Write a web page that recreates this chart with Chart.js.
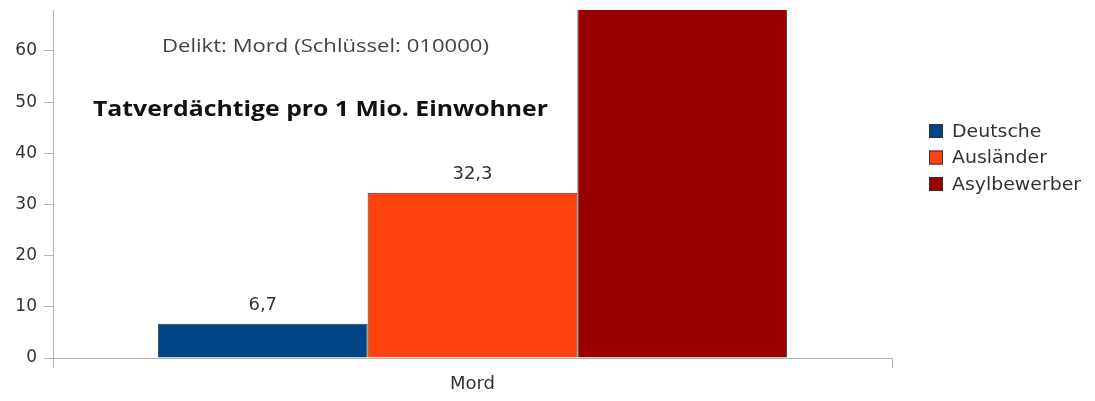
<!DOCTYPE html>
<html>
<head>
<meta charset="utf-8">
<script src="https://cdn.jsdelivr.net/npm/chart.js@4.4.1/dist/chart.umd.min.js"></script>
<style>
  html, body { margin: 0; padding: 0; background: #fff; }
  #wrap { width: 1095px; height: 401px; }
</style>
</head>
<body>
<div id="wrap"><canvas id="grafico" width="1095" height="401"></canvas></div>
<script>
// Werte (Asylbewerber ragt über den Achsenbereich hinaus, Wert geschätzt)
const kategorien = ['Mord'];
const gruppen = ['Deutsche', 'Ausländer', 'Asylbewerber'];
const werte = [6.7, 32.3, 85];
const farben = ['#004586', '#ff420e', '#990000'];
const yTicks = [0, 10, 20, 30, 40, 50, 60];
const yMax = 68;

const untertitel = 'Delikt: Mord (Schlüssel: 010000)';
const titel = 'Tatverdächtige pro 1 Mio. Einwohner';

const fmt = v => String(v).replace('.', ',');
const schrift = '"DejaVu Sans", Arial, sans-serif';

// Text horizontal auf eine Zielbreite ziehen (Vorlage ist etwas gestreckt)
function breitText(ctx, text, x, y, breite) {
    const w = ctx.measureText(text).width;
    ctx.save();
    ctx.translate(x, y);
    ctx.scale(breite / w, 1);
    ctx.fillText(text, 0, 0);
    ctx.restore();
}

const textPlugin = {
    id: 'texte',
    afterDatasetsDraw(chart) {
        const ctx = chart.ctx;
        const yScale = chart.scales.y;
        ctx.save();
        // Werte über den Balken
        ctx.font = '18px ' + schrift;
        ctx.fillStyle = '#333';
        ctx.textAlign = 'center';
        ctx.textBaseline = 'bottom';
        chart.data.datasets.forEach((ds, i) => {
            const bar = chart.getDatasetMeta(i).data[0];
            if (ds.data[0] <= yScale.max) {
                ctx.fillText(fmt(ds.data[0]), bar.x, bar.y - 9);
            }
        });
        // Titeltexte im Diagramm
        ctx.textAlign = 'left';
        ctx.textBaseline = 'alphabetic';
        ctx.fillStyle = '#444';
        ctx.font = '18px "Open Sans", sans-serif';
        breitText(ctx, untertitel, 162, 52, 327);
        ctx.fillStyle = '#111';
        ctx.font = 'bold 22px "Open Sans", sans-serif';
        breitText(ctx, titel, 93, 116, 455);
        // Legende
        ctx.font = '18px ' + schrift;
        ctx.textBaseline = 'middle';
        chart.data.datasets.forEach((ds, i) => {
            const y = 131 + i * 26.5;
            ctx.fillStyle = ds.backgroundColor;
            ctx.fillRect(929, y - 7, 14, 14);
            ctx.strokeStyle = '#333';
            ctx.lineWidth = 1;
            ctx.strokeRect(929.5, y - 6.5, 13, 13);
            ctx.fillStyle = '#333';
            breitText(ctx, ds.label, 952, y + 1, ctx.measureText(ds.label).width * 1.05);
        });
        ctx.restore();
    }
};

const ctx = document.getElementById('grafico').getContext('2d');
new Chart(ctx, {
    type: 'bar',
    data: {
        labels: kategorien,
        datasets: gruppen.map((g, i) => ({
            label: g,
            data: [werte[i]],
            backgroundColor: farben[i],
            borderColor: '#3a3a3a',
            borderWidth: 1,
            categoryPercentage: 0.75,
            barPercentage: 1.0
        }))
    },
    options: {
        responsive: false,
        animation: false,
        layout: { padding: { top: 10, right: 203, left: 0, bottom: 0 } },
        plugins: {
            legend: { display: false },
            tooltip: { enabled: false }
        },
        scales: {
            x: {
                grid: { display: true, drawOnChartArea: false, color: '#b3b3b3', tickLength: 10, offset: true },
                border: { color: '#b3b3b3' },
                ticks: { color: '#333', font: { family: schrift, size: 18 }, padding: 6 },
                afterFit(scale) { scale.height = 43; }
            },
            y: {
                min: 0,
                max: yMax,
                afterBuildTicks(scale) { scale.ticks = yTicks.map(v => ({ value: v })); },
                grid: { display: true, drawOnChartArea: false, color: '#b3b3b3', tickLength: 9 },
                border: { color: '#b3b3b3' },
                ticks: { color: '#333', font: { family: schrift, size: 17 }, padding: 7,
                    callback: v => fmt(v) },
                afterFit(scale) { scale.width = 53; scale.paddingTop = 0; scale.paddingBottom = 0; }
            }
        }
    },
    plugins: [textPlugin]
});
</script>
</body>
</html>
